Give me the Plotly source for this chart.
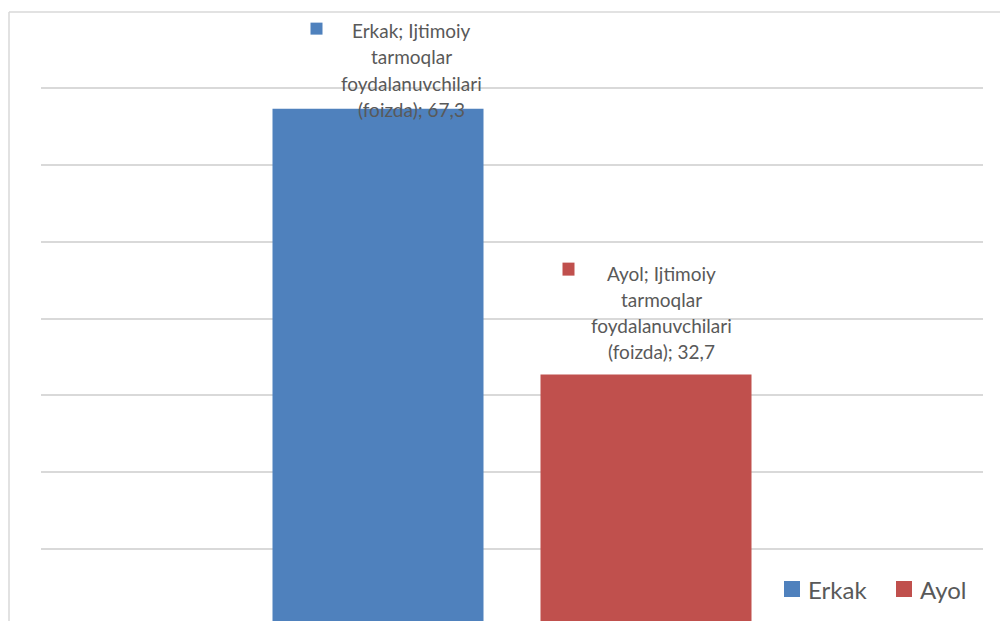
import plotly.graph_objects as go

# Data
series = ["Erkak", "Ayol"]
values = [67.3, 32.7]
colors = ["#4F81BD", "#C0504D"]
category = ["Ijtimoiy tarmoqlar foydalanuvchilari (foizda)"]
y_ticks = [10, 20, 30, 40, 50, 60, 70, 80]

W, H = 1000, 621
ML, MR, MT, MB = 41, 17, 11, 0
BARGAP, GROUPGAP = 0.431, 0.2127
TEXT = "#595959"
GRID = "#D9D9D9"
FONT = "Lato, 'Open Sans', sans-serif"
LINE_H = 26.2

fig = go.Figure()
for name, v, c in zip(series, values, colors):
    fig.add_trace(go.Bar(x=category, y=[v], name=name, marker=dict(color=c, line=dict(width=0)),
                         hoverinfo="skip", showlegend=False))

pw, ph = W - ML - MR, H - MT - MB

# bar centres in paper coordinates (single category spans the full width)
group = 1 - BARGAP
slot = group / len(series)
centres = [0.5 - group / 2 + slot * (i + 0.5) for i in range(len(series))]

# data labels: text block and legend key per bar (pixel offsets from bar centre / top)
label_dx = [33, 15.5]
label_dy = [78, 101.5]
key_dx = [(-67.5, -55.5), (-83.5, -71.5)]
key_dy = [(74, 86), (99, 112)]

annotations = []
shapes = []
for i, (name, v, c) in enumerate(zip(series, values, colors)):
    value_txt = f"{v:.1f}".replace(".", ",")
    lines = [f"{name}; Ijtimoiy", "tarmoqlar", "foydalanuvchilari", f"(foizda); {value_txt}"]
    for k, line in enumerate(lines):
        annotations.append(dict(
            x=centres[i], xref="paper", y=v, yref="y",
            xshift=label_dx[i], yshift=label_dy[i] - k * LINE_H,
            text=line, showarrow=False, xanchor="center", yanchor="middle",
            font=dict(family=FONT, size=19, color=TEXT),
        ))
    shapes.append(dict(
        type="rect", xref="paper", xsizemode="pixel", xanchor=centres[i],
        x0=key_dx[i][0], x1=key_dx[i][1],
        yref="y", ysizemode="pixel", yanchor=v, y0=key_dy[i][0], y1=key_dy[i][1],
        fillcolor=c, line=dict(width=0),
    ))

# legend (bottom right): colour key and series name
legend_key_x = [784, 896]
legend_y = (H - 589) / ph
for name, c, kx in zip(series, colors, legend_key_x):
    shapes.append(dict(
        type="rect", xref="paper", yref="paper", xsizemode="pixel", ysizemode="pixel",
        xanchor=(kx - ML) / pw, yanchor=legend_y, x0=0, x1=16, y0=-8, y1=8,
        fillcolor=c, line=dict(width=0),
    ))
    annotations.append(dict(
        x=(kx + 22 - ML) / pw, xref="paper", y=legend_y, yref="paper",
        text=name, showarrow=False, xanchor="left", yanchor="middle",
        font=dict(family=FONT, size=24, color=TEXT),
    ))

# chart border (top and left edges)
bx = (9 - ML) / pw
by = (H - 12 - MB) / ph
shapes.append(dict(type="line", xref="paper", yref="paper", x0=bx, x1=(W - ML) / pw, y0=by, y1=by,
                   line=dict(color=GRID, width=1.5), layer="below"))
shapes.append(dict(type="line", xref="paper", yref="paper", x0=bx, x1=bx, y0=by, y1=-0.01,
                   line=dict(color=GRID, width=1.5), layer="below"))

fig.update_layout(
    width=W, height=H,
    margin=dict(l=ML, r=MR, t=MT, b=MB),
    paper_bgcolor="white", plot_bgcolor="white",
    barmode="group", bargap=BARGAP, bargroupgap=GROUPGAP,
    xaxis=dict(showticklabels=False, showgrid=False, zeroline=False, showline=False, ticks=""),
    yaxis=dict(range=[0.65, 80.0], tickvals=y_ticks, showticklabels=False, showgrid=True,
               gridcolor=GRID, gridwidth=1.5, zeroline=False, showline=False, ticks=""),
    showlegend=False,
    annotations=annotations,
    shapes=shapes,
)

fig.write_html("out.html")
